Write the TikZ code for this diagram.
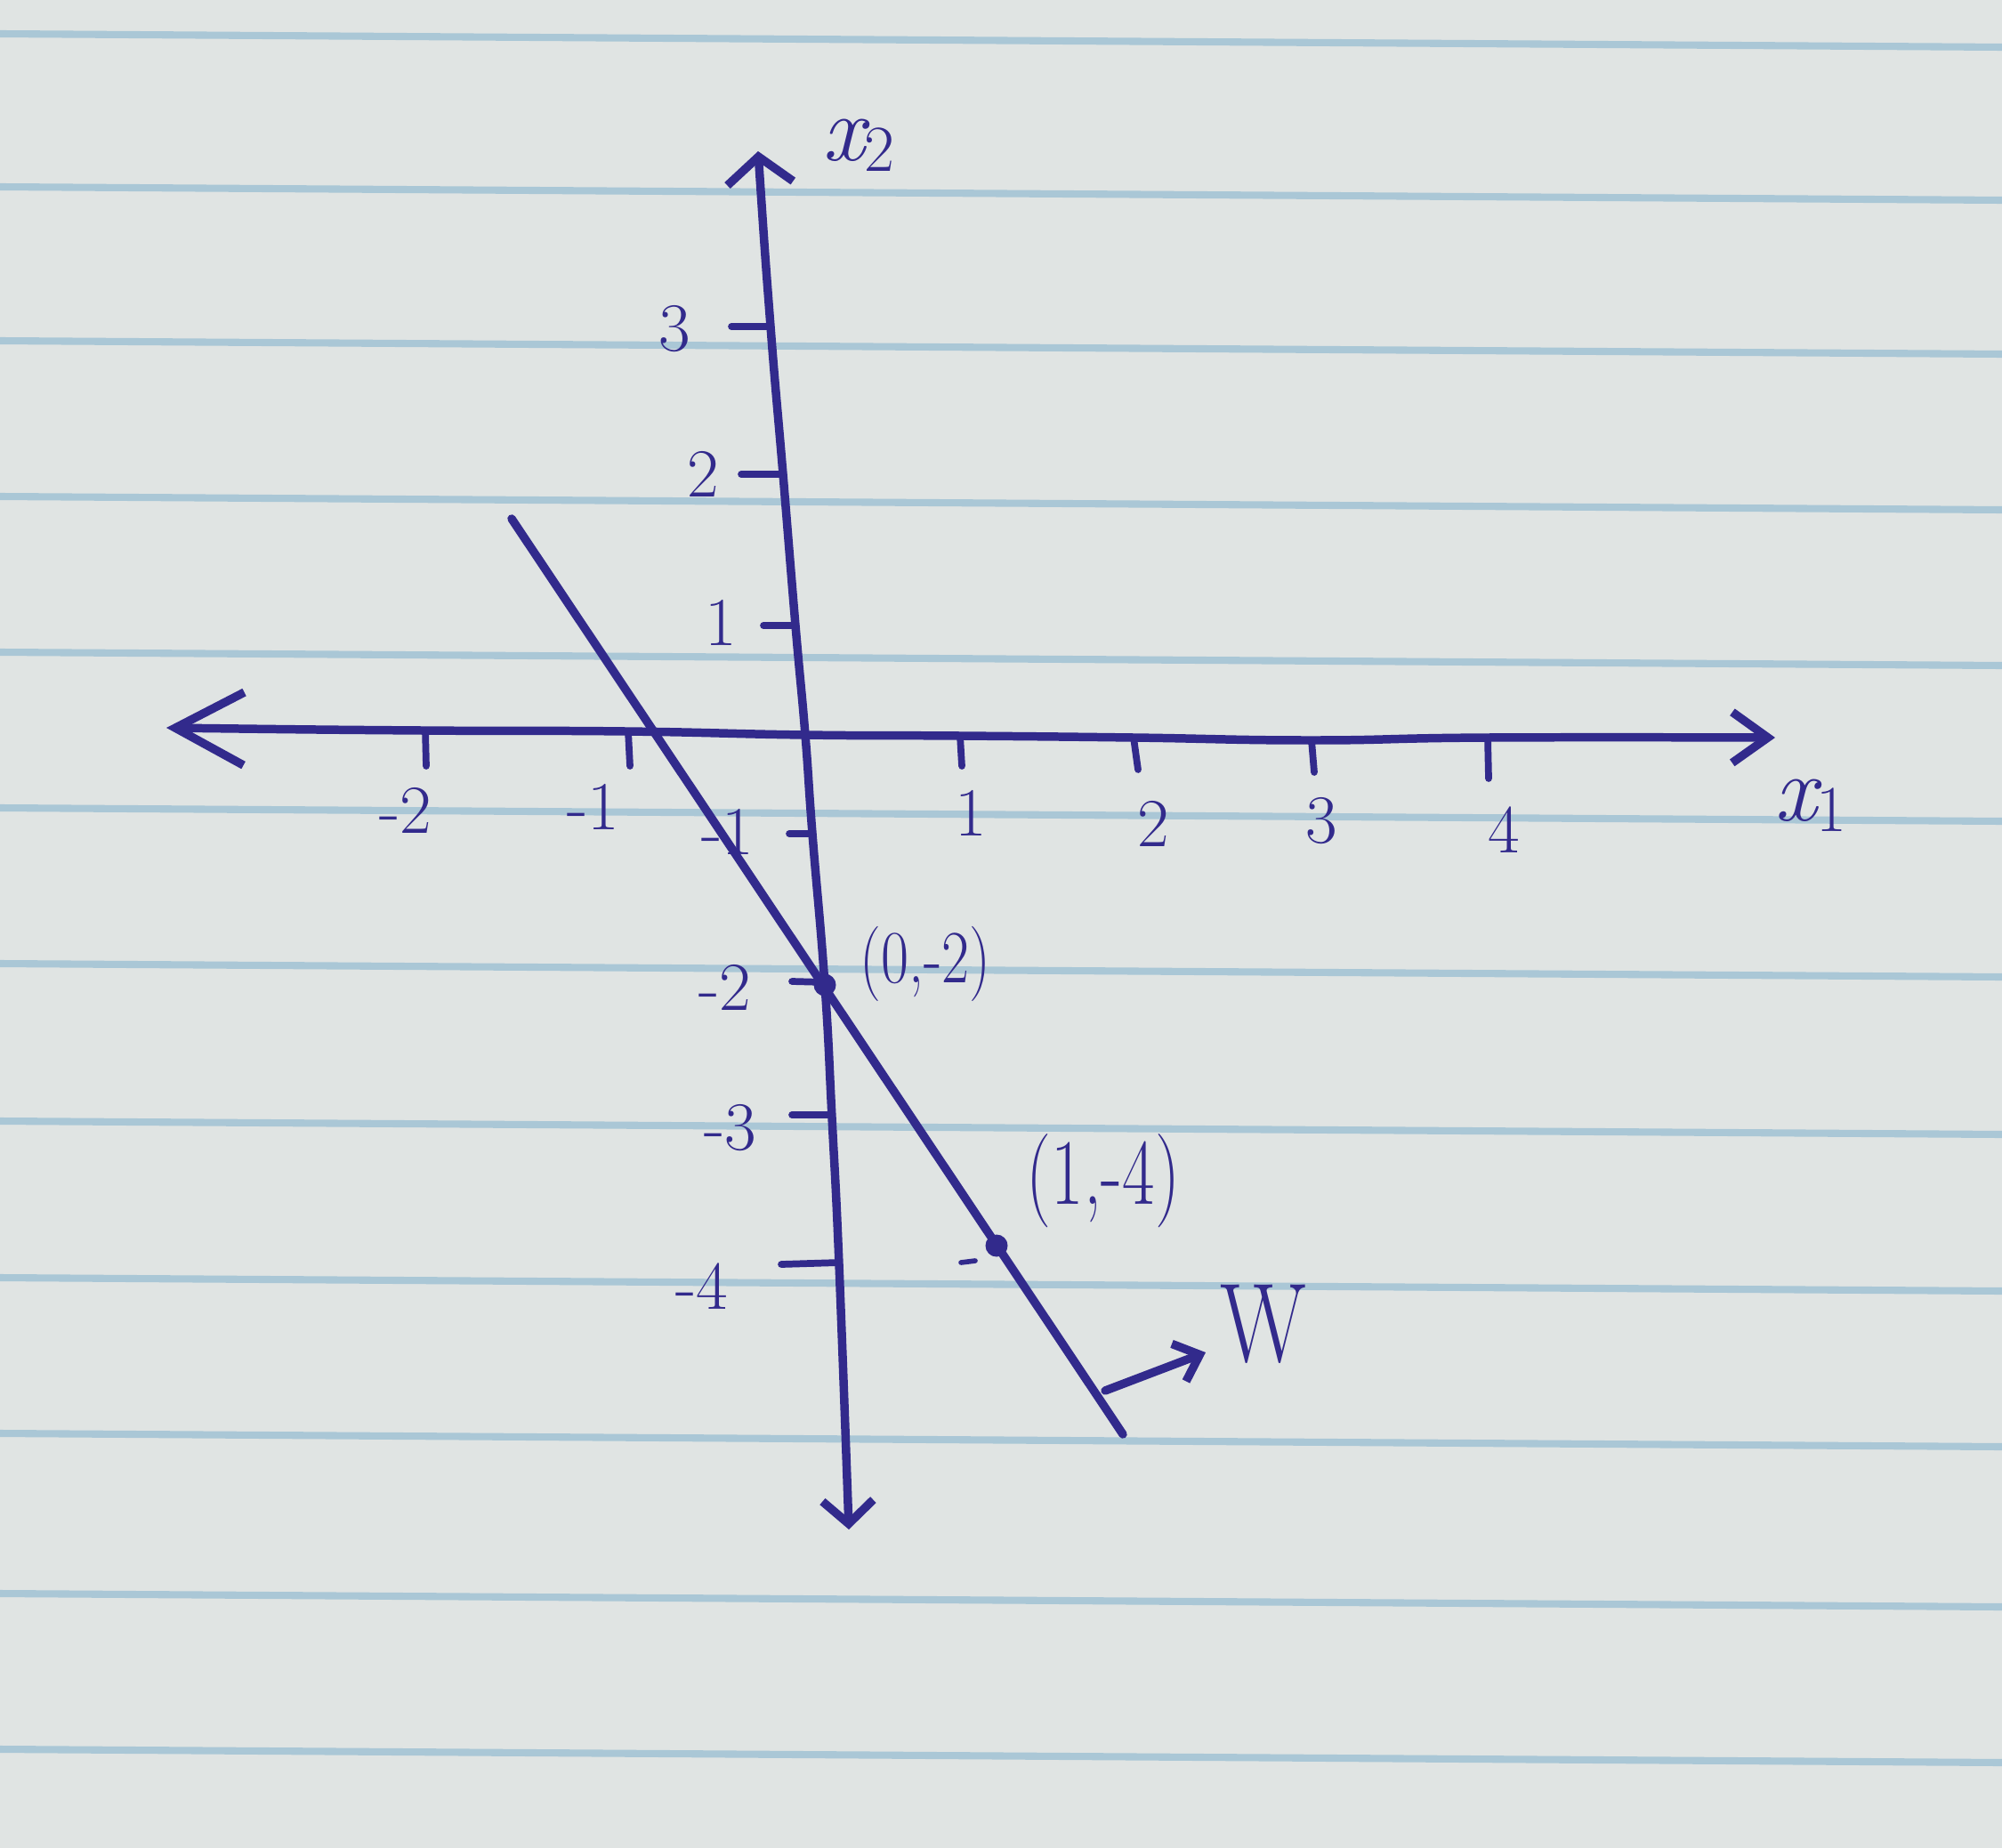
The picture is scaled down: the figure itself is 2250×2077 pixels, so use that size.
\documentclass[tikz,border=0pt]{standalone}
\usetikzlibrary{arrows.meta}
\definecolor{ink}{RGB}{50,42,140}
\definecolor{paper}{RGB}{224,228,227}
\definecolor{rulecol}{RGB}{170,199,214}
\newcommand{\axname}[2]{{\fontsize{30}{32}\selectfont\itshape #1}\raisebox{-0.35em}{\fontsize{21}{23}\selectfont #2}}
\begin{document}
\begin{tikzpicture}[x=0.1mm,y=-0.1mm,
  pen/.style={draw=ink,line width=2.7pt,line cap=round,line join=round},
  tickmark/.style={draw=ink,line width=2.2pt,line cap=round},
  lbl/.style={text=ink,font=\fontsize{22}{24}\selectfont,inner sep=0pt},
  ptlbl/.style={text=ink,inner sep=0pt},
  ruleline/.style={draw=rulecol,line width=2.3pt},
  dot/.style={circle,fill=ink,inner sep=0pt,minimum size=2.5mm}]
\fill[paper] (0,0) rectangle (2250,2077);
\useasboundingbox (0,0) rectangle (2250,2077);
% ruled paper
\foreach \y in {38,210,383,558,733,908,1083,1260,1436,1611,1791,1966}
  \draw[ruleline] (0,\y) -- (2250,\y+15);
% axes
\coordinate (xL) at (187,818);
\coordinate (xR) at (1995,829);
\coordinate (yT) at (852,170);
\coordinate (yB) at (954,1719);
\coordinate (O) at (905,826);
\coordinate (P0) at (927,1107);
\draw[pen,{Straight Barb[length=7.7mm,width=8.2mm]}-{Straight Barb[length=4mm,width=5.7mm]}]
  plot[smooth,tension=0.8] coordinates {(xL) (474,821) (703,822) (O) (1079,827) (1274,829) (1474,832) (1672,829) (xR)};
\draw[pen,{Straight Barb[length=3mm,width=7.4mm]}-{Straight Barb[length=2.6mm,width=5.7mm]}]
  plot[smooth,tension=0.8] coordinates {(yT) (866,367) (880,533) (894,703) (O) (913,937) (P0) (935,1256) (943,1421) (yB)};
% x ticks
\draw[tickmark] (478,821) -- (479,861);
\draw[tickmark] (706,822) -- (708,861);
\draw[tickmark] (1079,827) -- (1081,861);
\draw[tickmark] (1274,829) -- (1279,865);
\draw[tickmark] (1474,832) -- (1477,868);
\draw[tickmark] (1672,829) -- (1673,875);
% y ticks
\draw[tickmark] (822,367) -- (866,367);
\draw[tickmark] (833,533) -- (880,533);
\draw[tickmark] (858,703) -- (894,703);
\draw[tickmark] (887,937) -- (913,937);
\draw[tickmark] (890,1103) -- (927,1104);
\draw[tickmark] (890,1253) -- (935,1253);
\draw[tickmark] (878,1421) -- (943,1419);
% x tick labels
\node[lbl] (tm2) at (456,911) {-2};
\node[lbl] (tm1) at (667,907) {-1};
\node[lbl] (tp1) at (1091,914) {1};
\node[lbl] (tp2) at (1296,926) {2};
\node[lbl] (tp3) at (1485,923) {3};
\node[lbl] (tp4) at (1690,933) {4};
% y tick labels
\node[lbl] (ly3) at (758,370) {3};
\node[lbl] (ly2) at (790,533) {2};
\node[lbl] (ly1) at (810,700) {1};
\node[lbl] (lym1) at (818,935) {-1};
\node[lbl] (lym2) at (815,1110) {-2};
\node[lbl] (lym3) at (821,1268) {-3};
\node[lbl] (lym4) at (789,1446) {-4};
% axis names
\node[ptlbl] (X1) at (2035,905) {\axname{x}{1}};
\node[ptlbl] (X2) at (965,163) {\axname{x}{2}};
% boundary line
\coordinate (lA) at (575,583);
\coordinate (lB) at (1262,1612);
\draw[pen] (lA) -- (lB);
\node[dot] (d0) at (P0) {};
\node[dot] (d1) at (1120,1400) {};
\draw[tickmark,line width=1.6pt] (1080,1419) -- (1096,1417);
\node[ptlbl,font=\fontsize{24}{26}\selectfont,xscale=0.8] (L0) at (1040,1083) {(0,-2)};
\node[ptlbl,font=\fontsize{30}{32}\selectfont,xscale=0.75] (L1) at (1240,1327) {(1,-4)};
% W arrow
\coordinate (wS) at (1242,1563);
\coordinate (wE) at (1355,1520);
\draw[pen,-{Straight Barb[length=2.5mm,width=4.5mm]}] (wS) -- (wE);
\node[ptlbl,font=\fontsize{36}{38}\selectfont,xscale=0.8] (W) at (1420,1488) {W};
\end{tikzpicture}
\end{document}
